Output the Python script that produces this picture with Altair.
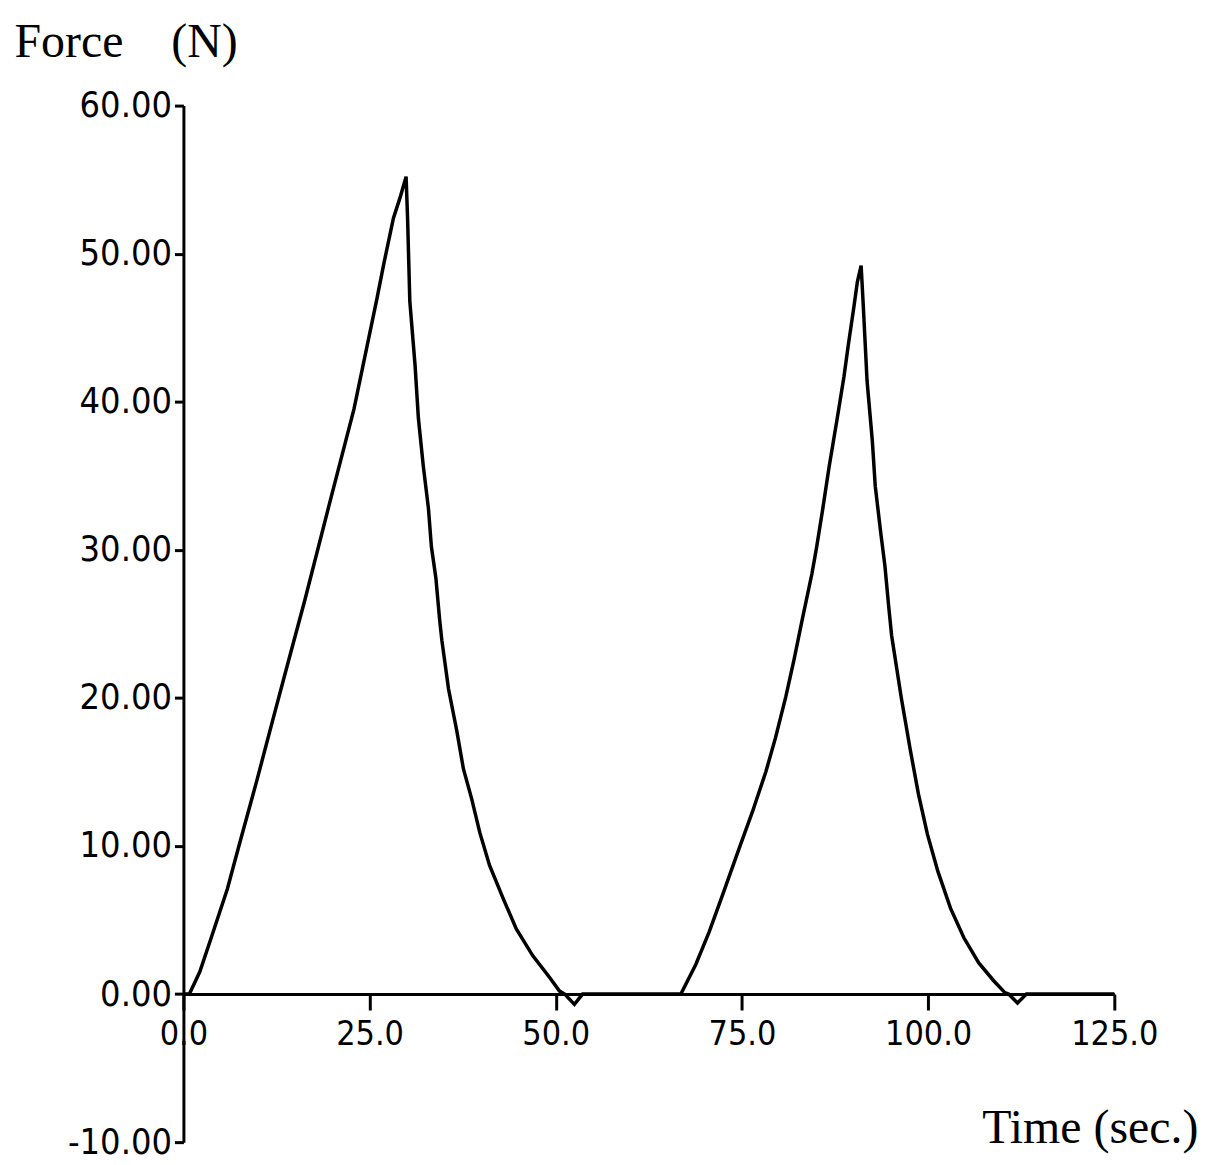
import altair as alt
import pandas as pd

# Time (sec.) and Force (N) values
time_s = [0.0, 0.8, 2.2, 3.6, 5.9, 7.45, 9.9, 12.1, 13.9, 16.3, 19.5, 22.9, 26.0, 26.9,
          28.2, 29.1, 29.9, 30.1, 30.4, 31.1, 31.55, 32.2, 32.9, 33.3, 33.9, 34.4,
          34.7, 35.6, 36.7, 37.6, 38.7, 39.8, 41.1, 42.9, 44.7, 46.9, 49.2, 50.5,
          51.2, 52.5, 53.6,
          66.8, 68.8, 70.6, 72.4, 74.6, 76.4, 78.2, 79.5, 80.9, 82.0, 83.1, 84.4,
          85.0, 85.8, 86.7, 87.8, 88.7, 89.3, 90.0, 90.5, 91.0, 91.3, 91.8, 92.5,
          92.9, 93.6, 94.2, 94.7, 95.1, 96.4, 97.6, 98.7, 99.9, 101.3, 103.0,
          104.8, 106.8, 108.8, 110.3, 110.8, 112.0, 113.2, 125.0]
force_n = [0.0, 0.0, 1.5, 3.6, 7.1, 10.0, 14.5, 18.7, 22.1, 26.6, 32.9, 39.5, 47.0, 49.3,
           52.4, 53.8, 55.2, 52.4, 46.8, 42.5, 38.9, 35.7, 32.8, 30.2, 28.1, 25.3,
           23.9, 20.6, 17.8, 15.2, 13.2, 10.9, 8.7, 6.5, 4.4, 2.6, 1.1, 0.2,
           0.0, -0.7, 0.0,
           0.0, 2.0, 4.2, 6.7, 9.8, 12.3, 15.0, 17.3, 20.1, 22.6, 25.3, 28.4,
           30.1, 32.6, 35.6, 38.9, 41.7, 43.9, 46.3, 48.1, 49.2, 46.4, 41.4, 37.4,
           34.3, 31.3, 28.9, 26.2, 24.2, 20.0, 16.5, 13.5, 10.8, 8.3, 5.8,
           3.8, 2.1, 0.9, 0.1, 0.0, -0.6, 0.0, 0.0]

x_ticks = [0, 25, 50, 75, 100, 125]
y_ticks = [-10, 0, 10, 20, 30, 40, 50, 60]

df = pd.DataFrame({"t": time_s, "f": force_n, "i": list(range(len(time_s)))})

W, H = 934, 1040
label_font = "DejaVu Sans Condensed, DejaVu Sans"
title_font = "Liberation Serif"

chart = alt.Chart(df).mark_line(color="black", strokeWidth=3.5).encode(
    x=alt.X("t:Q",
            scale=alt.Scale(domain=[0, 125], nice=False, zero=False),
            axis=alt.Axis(values=x_ticks, format=".1f", offset=-H * 10 / 70,
                          tickSize=16, tickWidth=3, tickColor="black",
                          domainWidth=3, domainColor="black", grid=False,
                          labelFont=label_font, labelFontSize=34, labelColor="black",
                          labelPadding=8, labelFlush=False, labelOverlap=False,
                          title="Time (sec.)", titleFont=title_font, titleFontSize=48,
                          titleFontWeight="normal", titleColor="black",
                          titleAlign="left", titleBaseline="alphabetic",
                          titleX=801, titleY=149)),
    y=alt.Y("f:Q",
            scale=alt.Scale(domain=[-10, 60], nice=False, zero=False),
            axis=alt.Axis(values=y_ticks,
                          labelExpr="replace(format(datum.value, '.2f'), '\u2212', '-')",
                          tickSize=9, tickWidth=3, tickColor="black",
                          domainWidth=3, domainColor="black", grid=False,
                          labelFont=label_font, labelFontSize=36, labelColor="black",
                          labelPadding=3, labelFlush=False, labelOverlap=False,
                          title="Force\u00a0\u00a0\u00a0\u00a0(N)", titleFont=title_font,
                          titleFontSize=48, titleFontWeight="normal", titleColor="black",
                          titleAngle=0, titleAlign="left", titleBaseline="alphabetic",
                          titleX=-170, titleY=-49)),
    order="i:Q",
).properties(
    width=W, height=H,
    padding={"left": 176, "top": 96, "right": 95, "bottom": 19},
    autosize=alt.AutoSizeParams(type="none"),
).configure_view(strokeWidth=0)

chart.save("out.html", embed_options={"renderer": "svg", "actions": False})
